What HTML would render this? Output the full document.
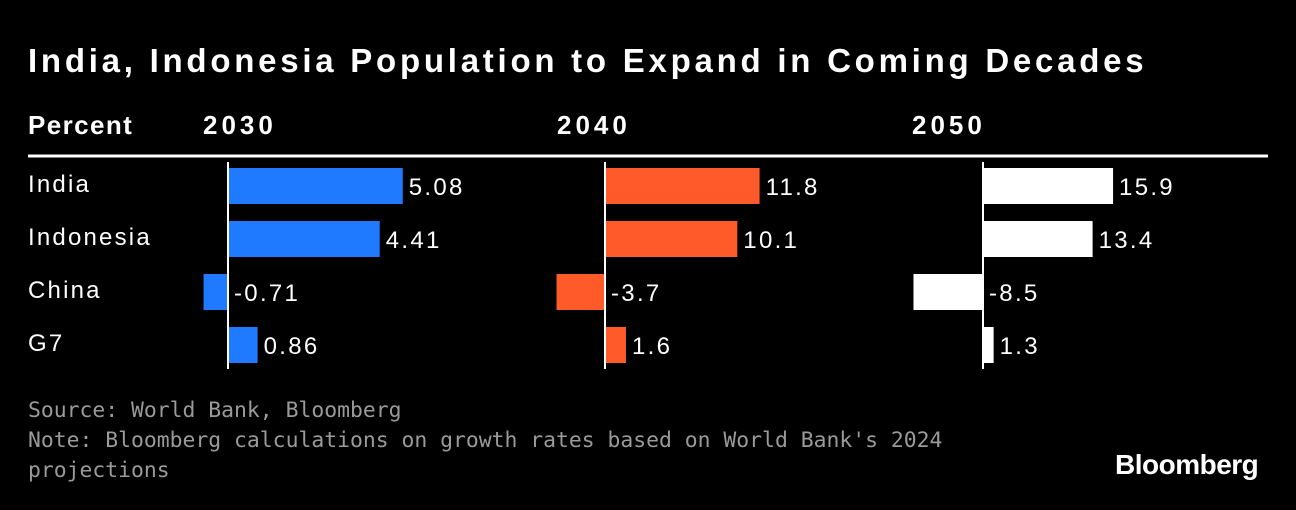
<!DOCTYPE html>
<html><head><meta charset="utf-8">
<style>
body{margin:0;background:#000;width:1296px;height:510px;overflow:hidden;font-family:"Liberation Sans",sans-serif;color:#fff}
.t{position:absolute;white-space:nowrap}
</style></head>
<body>
<div class="t" style="left:28px;top:42px;font-size:33px;font-weight:bold;letter-spacing:3.75px">India, Indonesia Population to Expand in Coming Decades</div>
<svg id="c" width="1296" height="400" style="position:absolute;left:0;top:0"></svg>
<div class="t" style="left:28px;top:396px;font-family:'DejaVu Sans Mono','Liberation Mono',monospace;font-size:21.4px;color:#9a9a9a;line-height:30px">Source: World Bank, Bloomberg<br>Note: Bloomberg calculations on growth rates based on World Bank's 2024<br>projections</div>
<div class="t" style="left:1115px;top:449px;font-size:28px;font-weight:bold;letter-spacing:-0.5px">Bloomberg</div>
<script>
const categories=["India","Indonesia","China","G7"];
const years=["2030","2040","2050"];
const v2030=[5.08,4.41,-0.71,0.86];
const v2040=[11.8,10.1,-3.7,1.6];
const v2050=[15.9,13.4,-8.5,1.3];
const labels2030=["5.08","4.41","-0.71","0.86"];
const labels2040=["11.8","10.1","-3.7","1.6"];
const labels2050=["15.9","13.4","-8.5","1.3"];
const svg=document.getElementById('c');
const NS="http://www.w3.org/2000/svg";
function mk(t,a,txt){const e=document.createElementNS(NS,t);for(const k in a)e.setAttribute(k,a[k]);if(txt!=null)e.textContent=txt;svg.appendChild(e);return e;}
const panels=[{zero:228,scale:34.4,vals:v2030,labs:labels2030,color:"#1f7aff",hx:203},
{zero:605,scale:13.1,vals:v2040,labs:labels2040,color:"#ff5a2a",hx:557},
{zero:983,scale:8.18,vals:v2050,labs:labels2050,color:"#ffffff",hx:912}];
const rowY=i=>168+i*53;
const BH=36;
let e=mk('text',{x:28,y:134,'font-size':26,'font-weight':'bold',fill:'#fff','letter-spacing':1.4},"Percent");


e=mk('line',{x1:28,x2:1268,y1:156,y2:156,stroke:'#fff','stroke-width':3});


categories.forEach((c,i)=>{
 const t=mk('text',{x:28,y:rowY(i)+BH/2+6,'font-size':24,fill:'#fff','letter-spacing':2.2},c);
 
 
});
panels.forEach((p,pi)=>{
 const h=mk('text',{x:p.hx,y:134,'font-size':26,'font-weight':'bold',fill:'#fff','letter-spacing':4},years[pi]);
 
 
 p.vals.forEach((v,i)=>{
  const x=v>=0?p.zero:p.zero+v*p.scale;
  const w=Math.abs(v)*p.scale;
  const r=mk('rect',{x:x,y:rowY(i),width:w,height:BH,fill:p.color});
  
  
  const lx=v>=0?p.zero+w+6:p.zero+6;
  const l=mk('text',{x:lx,y:rowY(i)+BH/2+9,'font-size':24,fill:'#fff','letter-spacing':2.3},p.labs[i]);
  
  
 });
 const z=mk('line',{x1:p.zero,x2:p.zero,y1:162,y2:369,stroke:'#fff','stroke-width':2});
 
 
});
</script>
</body></html>
